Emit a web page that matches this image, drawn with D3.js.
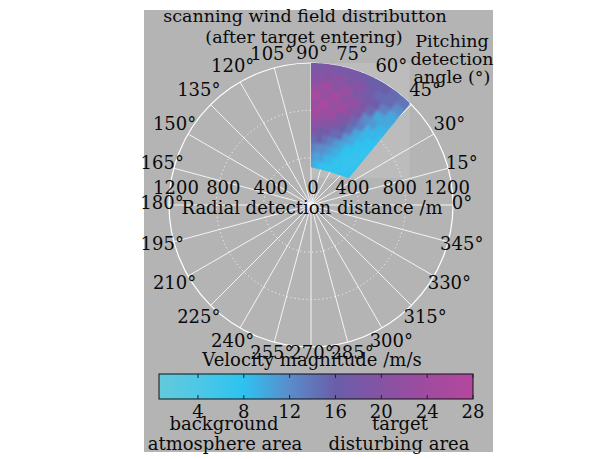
<!DOCTYPE html>
<html>
<head>
<meta charset="utf-8">
<script src="https://cdn.jsdelivr.net/npm/d3@7"></script>
<style>
  body { margin: 0; background: #fff; }
  text { font-family: "DejaVu Serif", serif; fill: #0a0a0a; }
</style>
</head>
<body>
<svg id="chart" width="613" height="459"></svg>
<script>
// pitching angle rows (deg, bin centres) and radial distance columns (m, bin centres)
var angleRows = [87.5, 82.5, 77.5, 72.5, 67.5, 62.5, 57.5, 52.5, 47.5, 42.5, 37.5];
var rangeCols = [337.5, 412.5, 487.5, 562.5, 637.5, 712.5, 787.5, 862.5, 937.5, 1012.5, 1087.5, 1162.5];
// velocity magnitude (m/s), one row per angle bin
var speed = [
    [10, 11, 13, 15, 19, 22, 25, 23, 26, 22, 20, 18],
    [9, 10, 12, 16, 17, 21, 23, 26, 22, 24, 20, 19],
    [8, 11, 12, 14, 18, 20, 24, 22, 25, 21, 21, 18],
    [8, 9, 11, 13, 15, 19, 20, 24, 21, 23, 19, 18],
    [8, 9, 10, 11, 15, 16, 19, 21, 22, 19, 20, 17],
    [7, 8, 9, 10, 11, 14, 15, 18, 19, 18, 17, 16],
    [8, 7, 8, 8, 10, 10, 13, 12, 15, 17, 15, 16],
    [7, 8, 7, 8, 8, 9, 9, 11, 10, 13, 15, 15],
    [8, 7, 7, 7, 8, 8, 9, 9, 10, 10, 12, 14],
    [8, 8, 7, 7, 7, 8, 8, 9, 9, 10, 10, 12],
    [8, 8, 8, 8, 8, 8, 8, 8, 9, 9, 10, 10]
];
// outline of the scanned area [angle deg, distance m]
var outlineLow = [[45.6, 1185], [35.4, 391], [60, 322], [90, 320]];

var angleTicks = d3.range(0, 360, 15);
var radialTicks = [400, 800, 1200];
var colorTicks = [4, 8, 12, 16, 20, 24, 28];
var colorStops = [0.6, 4, 8, 12, 16, 20, 24, 28];
var colorRange = ["#62cadb", "#4ec7e6", "#2dc2f0", "#5a8ccb", "#6a5ea9", "#8653a4", "#a04b9f", "#b4489e"];

var svg = d3.select("#chart");
var cx = 311, cy = 205, R = 142;

var rScale = d3.scaleLinear().domain([0, 1200]).range([0, R]);
var color = d3.scaleLinear().domain(colorStops).range(colorRange).clamp(true);
var rad = d => d * Math.PI / 180;
var px = (a, r) => cx + rScale(r) * Math.cos(rad(a));
var py = (a, r) => cy - rScale(r) * Math.sin(rad(a));

svg.append("rect")
    .attr("x", 144).attr("y", 10)
    .attr("width", 349).attr("height", 442)
    .attr("fill", "#b4b4b4");

// outline points (outer arc + lower edge)
var outline = d3.range(90, 45.6, -1).map(a => [a, 1200]).concat(outlineLow);
var outlinePx = outline.map(d => [px(d[0], d[1]), py(d[0], d[1])]);
var ox = d3.extent(outlinePx, d => d[0]);
var oy = d3.extent(outlinePx, d => d[1]);

// faint lighter box behind the scanned area
svg.append("rect")
    .attr("x", ox[0]).attr("y", oy[0])
    .attr("width", ox[1] - ox[0]).attr("height", oy[1] - oy[0])
    .attr("fill", "#bcbcbc");

// grid
var grid = svg.append("g").attr("stroke", "#fff").attr("fill", "none");
grid.selectAll("line")
    .data(angleTicks)
    .enter()
    .append("line")
    .attr("x1", cx).attr("y1", cy)
    .attr("x2", d => px(d, 1200))
    .attr("y2", d => py(d, 1200))
    .attr("stroke-width", 1)
    .attr("stroke-opacity", 0.85);
grid.selectAll("circle")
    .data(radialTicks)
    .enter()
    .append("circle")
    .attr("cx", cx).attr("cy", cy)
    .attr("r", d => rScale(d))
    .attr("stroke-width", d => d == 1200 ? 1.2 : 1)
    .attr("stroke-dasharray", d => d == 1200 ? null : "1,3");

// velocity field
var defs = svg.append("defs");
defs.append("clipPath").attr("id", "scan")
    .append("path")
    .attr("d", d3.line()(outlinePx) + "Z");
defs.append("filter").attr("id", "soft")
    .attr("x", "-10%").attr("y", "-10%").attr("width", "120%").attr("height", "120%")
    .append("feGaussianBlur").attr("stdDeviation", 1.4);

var cells = [];
angleRows.forEach(function(a, i) {
    rangeCols.forEach(function(r, j) {
        cells.push({
            a0: a - 2.5 - (i == angleRows.length - 1 ? 4 : 0),
            a1: a + 2.5 + (i == 0 ? 4 : 0),
            r0: r - 37.5 - (j == 0 ? 60 : 0),
            r1: r + 37.5 + (j == rangeCols.length - 1 ? 40 : 0),
            v: speed[i][j]
        });
    });
});

var arc = d3.arc()
    .innerRadius(d => rScale(d.r0))
    .outerRadius(d => rScale(d.r1))
    .startAngle(d => Math.PI / 2 - rad(d.a1))
    .endAngle(d => Math.PI / 2 - rad(d.a0));

svg.append("g")
    .attr("clip-path", "url(#scan)")
    .append("g")
    .attr("filter", "url(#soft)")
    .attr("transform", "translate(" + cx + "," + cy + ")")
    .selectAll("path")
    .data(cells)
    .enter()
    .append("path")
    .attr("d", arc)
    .attr("fill", d => color(d.v))
    .attr("stroke", d => color(d.v))
    .attr("stroke-width", 0.6);

// angle labels
var lx = cx + 1, ly = cy - 2;
svg.append("g")
    .style("font-size", "18px")
    .attr("text-anchor", "middle")
    .selectAll("text")
    .data(angleTicks)
    .enter()
    .append("text")
    .attr("x", d => lx + (150 + 10 * Math.abs(Math.sin(rad(2 * d)))) * Math.cos(rad(d)))
    .attr("y", d => ly - (150 + 10 * Math.abs(Math.sin(rad(2 * d)))) * Math.sin(rad(d)))
    .attr("dy", "0.36em")
    .text(d => d + "°");

// radial labels both sides
var rl = [{v: 0, x: cx + 2}];
radialTicks.forEach(function(v) {
    rl.push({v: v, x: cx - rScale(v) + 7});
    rl.push({v: v, x: cx + rScale(v) - 6});
});
svg.append("g")
    .style("font-size", "18px")
    .attr("text-anchor", "middle")
    .selectAll("text")
    .data(rl)
    .enter()
    .append("text")
    .attr("x", d => d.x)
    .attr("y", 194)
    .text(d => d.v);

function label(t, x, y, fs) {
    svg.append("text")
        .attr("x", x).attr("y", y)
        .attr("text-anchor", "middle")
        .style("font-size", (fs || 18) + "px")
        .text(t);
}
label("scanning wind field distributton", 305, 22, 17.5);
label("(after target entering)", 304, 43, 17.5);
label("Pitching", 452, 47, 17.5);
label("detection", 452, 65, 17.5);
label("angle (°)", 452, 83, 17.5);
label("Radial detection distance /m", 312, 214, 18);
label("Velocity magnitude /m/s", 312, 366, 18);
label("background", 224, 430, 18);
label("atmosphere area", 225, 450, 18);
label("target", 400, 430, 18);
label("disturbing area", 399, 450, 18);

// colour bar
var cb = {x0: 159, x1: 473, y0: 374, y1: 399};
var cScale = d3.scaleLinear().domain([0.6, 28]).range([cb.x0, cb.x1]);
var grad = defs.append("linearGradient").attr("id", "cbar")
    .attr("x1", "0%").attr("x2", "100%").attr("y1", "0%").attr("y2", "0%");
grad.selectAll("stop")
    .data(colorStops)
    .enter()
    .append("stop")
    .attr("offset", d => ((cScale(d) - cb.x0) / (cb.x1 - cb.x0) * 100) + "%")
    .attr("stop-color", d => color(d));

svg.append("rect")
    .attr("x", cb.x0).attr("y", cb.y0)
    .attr("width", cb.x1 - cb.x0).attr("height", cb.y1 - cb.y0)
    .attr("fill", "url(#cbar)")
    .attr("stroke", "#111").attr("stroke-width", 1);

var tk = svg.append("g").attr("stroke", "#222").attr("stroke-width", 1);
colorTicks.forEach(function(t) {
    tk.append("line").attr("x1", cScale(t)).attr("x2", cScale(t)).attr("y1", cb.y0).attr("y2", cb.y0 + 4);
    tk.append("line").attr("x1", cScale(t)).attr("x2", cScale(t)).attr("y1", cb.y1).attr("y2", cb.y1 - 4);
});
svg.append("g")
    .style("font-size", "18px")
    .attr("text-anchor", "middle")
    .selectAll("text")
    .data(colorTicks)
    .enter()
    .append("text")
    .attr("x", d => cScale(d))
    .attr("y", 418)
    .text(d => d);
</script>
</body>
</html>
